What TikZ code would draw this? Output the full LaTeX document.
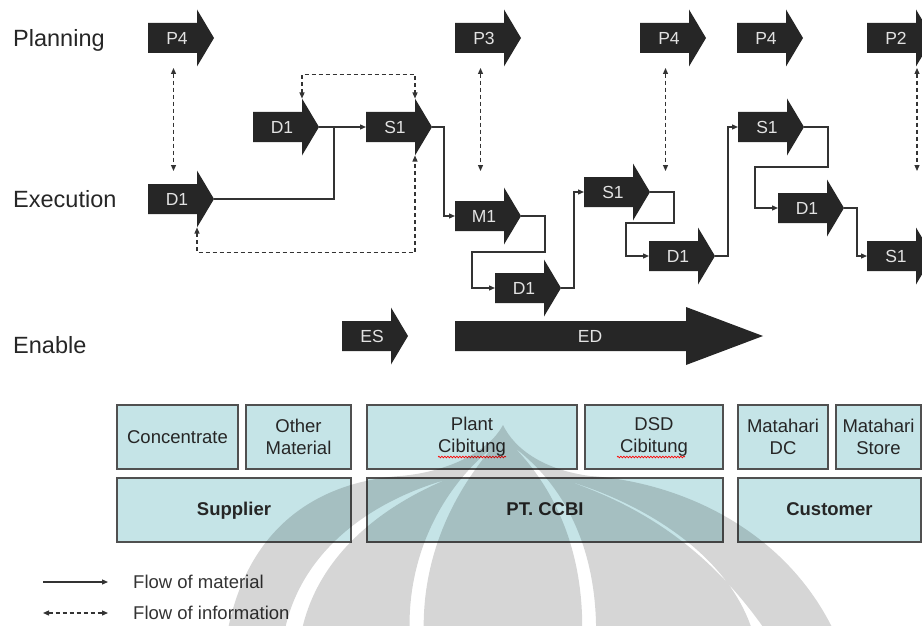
\documentclass[tikz,border=0pt]{standalone}
\usepackage{fontspec}
\setmainfont{Liberation Sans}
\usetikzlibrary{arrows.meta,decorations.pathmorphing}

\definecolor{ink}{HTML}{262626}
\definecolor{lbl}{HTML}{E2E2E2}
\definecolor{boxfill}{HTML}{C5E4E7}
\definecolor{boxline}{HTML}{505050}
\definecolor{wire}{HTML}{333333}

\tikzset{
  bodylen/.store in=\bodylen, headlen/.store in=\headlen,
  labelx/.store in=\labelx, headhalf/.store in=\headhalf, infox/.store in=\infox,
  bodylen=49, headlen=17, labelx=29, headhalf=28.5, infox=25.5,
  arrowlabel/.style={text=lbl, font=\fontsize{17.5}{18}\selectfont, inner sep=0},
  % block arrow: body, head, label and named anchor points
  blockarrow/.pic={
    \fill[ink] (0,-15) -- (\bodylen,-15) -- (\bodylen,-\headhalf)
      -- (\bodylen+\headlen,0) -- (\bodylen,\headhalf) -- (\bodylen,15)
      -- (0,15) -- cycle;
    \node[arrowlabel] (-lbl) at (\labelx,0) {#1};
    \coordinate (-w) at (0,0);
    \coordinate (-tip) at (\bodylen+\headlen,0);
    \coordinate (-ht) at (\bodylen,-\headhalf);
    \coordinate (-hb) at (\bodylen,\headhalf);
    \coordinate (-bs) at (\infox,30);
    \coordinate (-bn) at (\infox,-28);
  },
  rowlabel/.style={text=ink, font=\fontsize{23.5}{26}\selectfont, anchor=base west, inner sep=0},
  unitbox/.style={draw=boxline, line width=1.3, fill=boxfill, inner sep=0,
    align=center, minimum height=64, font=\fontsize{18.5}{22}\selectfont, text=ink},
  groupbox/.style={unitbox, font=\fontsize{18.5}{22}\selectfont\bfseries,
    text height=13.5pt, text depth=2pt},
  legendtext/.style={text=wire, font=\fontsize{18.5}{22}\selectfont, anchor=base west, inner sep=0},
  tinytip/.tip={Triangle[length=6pt,width=5pt]},
  plainline/.style={draw=wire, line width=1.2},
  material/.style={plainline, -tinytip},
  info/.style={plainline, dash pattern=on 4pt off 3pt, tinytip-tinytip},
  spellmark/.style={draw=red, line width=0.7, decorate,
    decoration={snake, amplitude=0.8pt, segment length=3pt}},
  watermark/.style={fill=black, fill opacity=0.16, even odd rule},
}

\begin{document}
\begin{tikzpicture}[x=1pt,y=-1pt]
\useasboundingbox (0,0) rectangle (922,626);
\clip (0,0) rectangle (922,626);

% row titles
\node[rowlabel] (planning) at (13,47) {Planning};
\node[rowlabel] (execution) at (13,207) {Execution};
\node[rowlabel] (enable) at (13,353) {Enable};

% planning processes
\pic (p4a) at (148,38) {blockarrow=P4};
\pic (p3) at (455,38) {blockarrow=P3};
\pic (p4b) at (640,38) {blockarrow=P4};
\pic (p4c) at (737,38) {blockarrow=P4};
\pic[infox=50] (p2) at (867,38) {blockarrow=P2};

% execution processes
\pic (d1a) at (148,199) {blockarrow=D1};
\pic (d1b) at (253,127) {blockarrow=D1};
\pic (s1a) at (366,127) {blockarrow=S1};
\pic (m1) at (455,216) {blockarrow=M1};
\pic (d1c) at (495,288) {blockarrow=D1};
\pic (s1b) at (584,192) {blockarrow=S1};
\pic (d1d) at (649,256) {blockarrow=D1};
\pic (s1c) at (738,127) {blockarrow=S1};
\pic (d1e) at (778,208) {blockarrow=D1};
\pic (s1d) at (867,256) {blockarrow=S1};

% enable processes
\pic[labelx=30] (es) at (342,336) {blockarrow=ES};
\pic[bodylen=231, headlen=77, labelx=135, headhalf=29] (ed) at (455,336) {blockarrow=ED};

% flow of material
\coordinate (j1) at (334,127);
\draw[material] (d1b-tip) -- (s1a-w);
\draw[plainline] (d1a-tip) -| (j1);
\draw[material] (s1a-tip) -- ++(12,0) |- (m1-w);
\draw[material] (m1-tip) -- ++(24,0) -- ++(0,36) -- ++(-73,0) |- (d1c-w);
\draw[material] (d1c-tip) -- ++(13,0) |- (s1b-w);
\draw[material] (s1b-tip) -- ++(24,0) -- ++(0,31) -- ++(-48,0) |- (d1d-w);
\draw[material] (d1d-tip) -- ++(13,0) |- (s1c-w);
\draw[material] (s1c-tip) -- ++(24,0) -- ++(0,40) -- ++(-73,0) |- (d1e-w);
\draw[material] (d1e-tip) -- ++(13,0) |- (s1d-w);

% flow of information
\draw[info] (p4a-bs) -- (d1a-bn);
\draw[info] (p3-bs) -- (p3-bs |- d1a-bn);
\draw[info] (p4b-bs) -- (p4b-bs |- d1a-bn);
\draw[info] (p2-bs) -- (p2-bs |- d1a-bn);
\draw[info] (d1b-ht) -- ++(0,-24) -| (s1a-ht);
\draw[info] (d1a-hb) -- ++(0,25) -| (s1a-hb);

% parties
\node[unitbox, minimum width=121] (conc) at (177.5,437) {Concentrate};
\node[unitbox, minimum width=105] (other) at (298.5,437) {Other\\Material};
\node[groupbox, minimum width=234] (supp) at (234,510) {Supplier};
\node[unitbox, minimum width=210] (plant) at (472,437) {Plant\\Cibitung};
\node[unitbox, minimum width=138] (dsd) at (654,437) {DSD\\Cibitung};
\node[groupbox, minimum width=356] (ccbi) at (545,510) {PT. CCBI};
\node[unitbox, minimum width=90] (mdc) at (783,437) {Matahari\\DC};
\node[unitbox, minimum width=85] (mstore) at (878.5,437) {Matahari\\Store};
\node[groupbox, minimum width=183] (cust) at (829.5,510) {Customer};

\draw[spellmark] ([xshift=-34pt,yshift=-20pt]plant.center) -- ([xshift=34pt,yshift=-20pt]plant.center);
\draw[spellmark] ([xshift=-37pt,yshift=-20pt]dsd.center) -- ([xshift=31pt,yshift=-20pt]dsd.center);

% legend
\coordinate (lm-a) at (43,582);
\coordinate (lm-b) at (108,582);
\coordinate (li-a) at (43,613);
\coordinate (li-b) at (108,613);
\draw[material] (lm-a) -- (lm-b);
\draw[info] (li-a) -- (li-b);
\node[legendtext] (lm-t) at (133,588) {Flow of material};
\node[legendtext] (li-t) at (133,619) {Flow of information};

% faint emblem behind the lower part
\fill[watermark]
  (226,640) .. controls (245,525) and (320,482) .. (400,476)
    .. controls (450,472) and (490,450) .. (503,425)
    .. controls (515,450) and (545,470) .. (590,476)
    .. controls (680,482) and (790,530) .. (838,640) -- cycle
  (283,640) .. controls (295,560) and (360,505) .. (445,480)
    .. controls (370,512) and (312,565) .. (300,640) -- cycle
  (410,640) .. controls (405,560) and (440,490) .. (492,448)
    .. controls (452,495) and (420,560) .. (424,640) -- cycle
  (582,640) .. controls (585,560) and (560,495) .. (515,448)
    .. controls (572,492) and (598,560) .. (596,640) -- cycle
  (755,640) .. controls (735,560) and (650,505) .. (565,480)
    .. controls (660,512) and (722,565) .. (772,640) -- cycle;
\end{tikzpicture}
\end{document}
